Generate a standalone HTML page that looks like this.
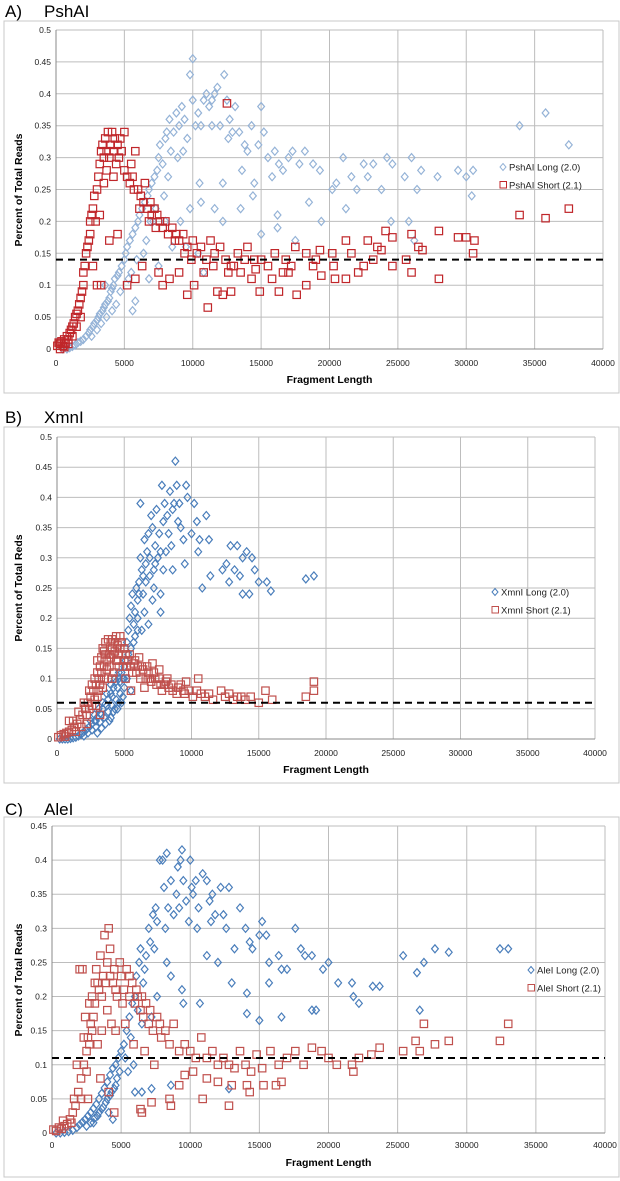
<!DOCTYPE html>
<html><head><meta charset="utf-8"><style>
html,body{margin:0;padding:0;background:#fff;}
svg{display:block;font-family:"Liberation Sans",sans-serif;}
</style></head><body>
<svg id="fig" width="620" height="1181" viewBox="0 0 620 1181" xmlns="http://www.w3.org/2000/svg"></svg>
<script>
// ---- Data (x in kb, y = percent of total reads) ----
const xTicks = [0,5000,10000,15000,20000,25000,30000,35000,40000];
const yTicksAB = [0,0.05,0.1,0.15,0.2,0.25,0.3,0.35,0.4,0.45,0.5];
const yTicksC = [0,0.05,0.1,0.15,0.2,0.25,0.3,0.35,0.4,0.45];
const thresholds = [0.14,0.06,0.11];
const aLong = [[0.5,0],[0.8,0],[1,0.002],[1.2,0.004],[1.4,0.006],[1.6,0.01],[1.8,0.012],[2,0.015],[2.2,0.02],[2.4,0.025],[2.5,0.03],[2.7,0.035],[2.8,0.04],[3,0.045],[3.1,0.05],[3.2,0.055],[3.4,0.06],[3.5,0.065],[3.6,0.07],[3.8,0.075],[3.9,0.08],[4,0.09],[4.1,0.095],[4.2,0.1],[4.3,0.11],[4.5,0.115],[4.6,0.12],[4.8,0.13],[5,0.14],[5.1,0.15],[5.2,0.16],[5.4,0.17],[5.5,0.12],[5.6,0.18],[5.8,0.19],[6,0.2],[6.1,0.21],[6.3,0.22],[6.4,0.15],[6.5,0.23],[6.7,0.24],[6.8,0.25],[7,0.26],[7.1,0.2],[7.2,0.27],[7.4,0.28],[7.5,0.3],[7.6,0.32],[7.8,0.29],[8,0.33],[8.1,0.34],[8.3,0.36],[8.4,0.31],[8.6,0.34],[8.8,0.37],[9,0.35],[9.2,0.38],[9.4,0.36],[9.6,0.33],[9.8,0.43],[10,0.455],[10,0.39],[10.2,0.35],[10.4,0.37],[10.5,0.26],[10.6,0.23],[10.8,0.39],[11,0.4],[11.2,0.38],[11.4,0.39],[11.6,0.4],[11.8,0.41],[12,0.35],[12.2,0.26],[12.3,0.43],[12.5,0.39],[12.7,0.36],[12.9,0.34],[13.1,0.38],[13.4,0.34],[13.6,0.28],[13.8,0.32],[14,0.31],[14.3,0.35],[14.5,0.26],[14.8,0.32],[15,0.38],[15.2,0.34],[15.5,0.3],[15.8,0.27],[16,0.31],[16.3,0.29],[16.6,0.28],[17,0.3],[17.3,0.31],[17.8,0.29],[18.2,0.31],[18.5,0.23],[18.8,0.29],[19.3,0.28],[20.2,0.25],[20.5,0.26],[21,0.3],[21.2,0.22],[21.6,0.27],[22,0.25],[22.5,0.29],[22.8,0.27],[23.2,0.29],[23.8,0.25],[24.2,0.3],[24.6,0.29],[25.5,0.27],[26,0.3],[26.4,0.25],[26.7,0.28],[27.9,0.27],[29.4,0.28],[30,0.27],[30.5,0.28],[30.4,0.24],[16.2,0.21],[16.2,0.19],[19.4,0.2],[17.5,0.17],[15,0.18],[12.2,0.2],[11.6,0.22],[13.5,0.22],[14.4,0.24],[33.9,0.35],[35.8,0.37],[37.5,0.32],[3.6,0.1],[4.4,0.07],[5.6,0.06],[5.8,0.075],[6.8,0.11],[7.5,0.13],[8.5,0.16],[9.1,0.2],[9.8,0.22],[10.4,0.15],[10.8,0.12],[8,0.2],[9.5,0.16],[24.5,0.2],[25.8,0.2],[26.2,0.17],[2.6,0.02],[3,0.03],[3.3,0.04],[3.7,0.05],[4.1,0.06],[4.7,0.09],[5.3,0.11],[5.9,0.14],[6.6,0.17],[7.3,0.22],[8.2,0.27],[9.3,0.31],[10.6,0.35],[11.4,0.35],[12.6,0.33],[8.9,0.3],[7.9,0.24],[6.9,0.2]];
const aShort = [[0.1,0.005],[0.2,0.01],[0.3,0],[0.4,0.012],[0.5,0.005],[0.6,0.015],[0.7,0.01],[0.8,0.02],[0.9,0.015],[1,0.025],[1.1,0.03],[1.2,0.035],[1.3,0.04],[1.4,0.05],[1.5,0.055],[1.6,0.06],[1.7,0.07],[1.8,0.08],[1.9,0.09],[2,0.1],[2,0.12],[2.1,0.13],[2.2,0.15],[2.3,0.16],[2.4,0.17],[2.5,0.18],[2.5,0.2],[2.6,0.21],[2.7,0.22],[2.8,0.24],[2.9,0.2],[3,0.25],[3,0.1],[3.1,0.27],[3.2,0.29],[3.3,0.31],[3.4,0.32],[3.5,0.3],[3.6,0.33],[3.7,0.31],[3.8,0.34],[3.9,0.3],[4,0.32],[4.1,0.34],[4.2,0.31],[4.3,0.33],[4.4,0.29],[4.5,0.32],[4.6,0.3],[4.8,0.31],[5,0.34],[5,0.28],[5.2,0.27],[5.4,0.26],[5.5,0.29],[5.7,0.25],[5.8,0.31],[6,0.25],[6.2,0.24],[6.4,0.23],[6.5,0.26],[6.7,0.22],[6.9,0.23],[7,0.21],[7.2,0.22],[7.4,0.21],[7.6,0.2],[7.8,0.19],[8,0.2],[8.2,0.18],[8.5,0.19],[8.8,0.18],[9,0.17],[9.3,0.18],[9.6,0.16],[10,0.17],[10.3,0.15],[10.6,0.16],[11,0.14],[11.3,0.17],[11.6,0.15],[12,0.16],[12.4,0.14],[12.5,0.385],[3.5,0.26],[3.2,0.21],[2.7,0.13],[3.3,0.1],[3.9,0.17],[4.5,0.18],[5.2,0.1],[5.8,0.11],[6.3,0.13],[7.5,0.12],[7.8,0.1],[8.3,0.11],[9,0.12],[9.6,0.085],[10.1,0.1],[11.1,0.065],[11.8,0.09],[12.2,0.085],[12.8,0.09],[13.5,0.12],[14,0.16],[14.3,0.11],[14.9,0.09],[15,0.14],[15.5,0.13],[16,0.15],[16.3,0.09],[16.6,0.12],[17.2,0.13],[17.5,0.16],[17.6,0.085],[18.3,0.1],[18.3,0.15],[18.8,0.13],[19.3,0.155],[19.4,0.115],[20.2,0.15],[20.3,0.13],[20.4,0.11],[21.2,0.17],[21.2,0.11],[21.6,0.15],[22.1,0.12],[22.5,0.13],[22.8,0.17],[23.2,0.14],[23.5,0.16],[23.8,0.155],[24.1,0.185],[24.6,0.13],[24.6,0.175],[25.6,0.14],[26,0.12],[26,0.18],[26.5,0.16],[26.8,0.155],[28,0.185],[28,0.11],[29.4,0.175],[30,0.175],[30.6,0.17],[30.5,0.15],[33.9,0.21],[35.8,0.205],[37.5,0.22],[13,0.13],[13.8,0.14],[14.6,0.125],[16.8,0.14],[19,0.14],[10.8,0.12],[12.6,0.12],[0.3,0.008],[0.6,0.003],[0.9,0.008],[1.2,0.02],[1.5,0.035],[1.8,0.05],[3.7,0.28],[4.2,0.27],[4.7,0.33],[5.6,0.27],[6.1,0.22],[6.8,0.2],[7.3,0.19],[8.7,0.17],[9.4,0.15],[9.9,0.14],[11.5,0.13],[12.8,0.13],[13.3,0.15],[14.5,0.14],[15.8,0.11],[17,0.12]];
const bLong = [[0.2,0],[0.4,0],[0.6,0],[0.8,0],[1,0.001],[1.2,0.002],[1.4,0.003],[1.6,0.005],[1.8,0.008],[2,0.012],[2.2,0.016],[2.4,0.02],[2.6,0.025],[2.8,0.03],[3,0.036],[3.2,0.042],[3.4,0.05],[3.6,0.058],[3.8,0.066],[4,0.075],[4.2,0.085],[4.4,0.095],[4.6,0.1],[4.8,0.11],[5,0.12],[2,0.005],[2.3,0.01],[2.6,0.015],[2.9,0.02],[3.2,0.028],[3.5,0.036],[3.8,0.045],[4.1,0.055],[4.4,0.065],[4.7,0.075],[5,0.085],[2.5,0.03],[2.8,0.04],[3.1,0.05],[3.4,0.06],[3.7,0.075],[4,0.09],[4.3,0.1],[4.6,0.11],[4.9,0.1],[3.9,0.03],[4.3,0.05],[4.6,0.06],[4.9,0.07],[5.1,0.13],[5.2,0.16],[5.3,0.18],[5.4,0.2],[5.5,0.22],[5.6,0.24],[5.7,0.19],[5.8,0.21],[5.9,0.25],[6,0.23],[6,0.2],[6.1,0.26],[6.2,0.3],[6.2,0.39],[6.3,0.28],[6.4,0.27],[6.5,0.33],[6.6,0.29],[6.7,0.31],[6.8,0.34],[6.9,0.3],[7,0.37],[7.1,0.35],[7.2,0.28],[7.3,0.32],[7.4,0.38],[7.5,0.3],[7.6,0.34],[7.7,0.24],[7.8,0.42],[7.9,0.36],[8,0.39],[8.1,0.31],[8.2,0.37],[8.4,0.41],[8.5,0.32],[8.6,0.38],[8.7,0.39],[8.8,0.46],[8.9,0.42],[9,0.36],[9.2,0.35],[9.4,0.33],[9.6,0.42],[9.7,0.4],[10,0.34],[10.2,0.39],[10.4,0.36],[10.5,0.31],[10.6,0.33],[10.8,0.25],[11.1,0.37],[11.3,0.33],[11.4,0.27],[12.3,0.28],[12.6,0.29],[12.8,0.26],[12.9,0.32],[13.2,0.28],[13.4,0.32],[13.6,0.27],[13.8,0.3],[13.8,0.24],[14.1,0.31],[14.3,0.24],[14.5,0.3],[14.7,0.28],[15,0.26],[15.6,0.26],[15.9,0.245],[18.5,0.265],[19.1,0.27],[7.1,0.23],[6.8,0.19],[6.5,0.21],[7.2,0.25],[9.5,0.29],[8.6,0.28],[5.5,0.15],[5.8,0.17],[6.3,0.18],[7.7,0.21],[6.1,0.24],[5.2,0.1],[5.5,0.08],[3,0.01],[3.3,0.018],[3.6,0.025],[4,0.035],[4.2,0.045],[4.5,0.05],[4.8,0.06],[5,0.1],[4.5,0.085],[4.1,0.07],[3.7,0.055],[3.3,0.04],[2.9,0.03],[4.7,0.095],[5.3,0.14],[5.7,0.16],[6,0.18],[6.4,0.24],[6.9,0.27],[7.3,0.29],[7.7,0.31],[8.3,0.34],[9.1,0.39],[6.6,0.26],[7.9,0.28]];
const bShort = [[0.1,0.003],[0.3,0.006],[0.5,0.008],[0.7,0.01],[0.9,0.012],[1.1,0.015],[1.3,0.02],[1.5,0.025],[1.7,0.032],[1.9,0.04],[2.1,0.05],[2.3,0.06],[2.5,0.07],[2.7,0.08],[2.9,0.09],[3.1,0.1],[3.3,0.11],[3.5,0.12],[3.7,0.13],[3.9,0.14],[4.1,0.15],[4.3,0.16],[4.5,0.155],[1.2,0.03],[1.6,0.045],[2,0.06],[2.4,0.08],[2.8,0.1],[3.2,0.12],[3.6,0.14],[4,0.16],[4.4,0.17],[4.8,0.16],[2.2,0.04],[2.6,0.055],[3,0.07],[3.4,0.085],[3.8,0.1],[4.2,0.11],[4.6,0.12],[5,0.13],[3,0.13],[3.4,0.15],[3.8,0.165],[4.2,0.14],[4.6,0.14],[5,0.15],[5.2,0.12],[5.4,0.14],[5.6,0.11],[5.8,0.13],[6,0.12],[6.2,0.1],[6.4,0.115],[6.6,0.1],[6.8,0.11],[7,0.095],[7.2,0.11],[7.4,0.09],[7.6,0.1],[7.8,0.08],[8,0.09],[8.3,0.085],[8.6,0.08],[8.9,0.075],[9.2,0.09],[9.5,0.075],[9.8,0.08],[10.1,0.07],[10.4,0.08],[10.7,0.075],[11,0.07],[11.3,0.075],[11.6,0.065],[12.2,0.08],[12.5,0.07],[12.8,0.075],[13.1,0.065],[13.4,0.07],[13.7,0.07],[14,0.065],[14.4,0.07],[15,0.06],[15.5,0.08],[16,0.065],[18.5,0.07],[19.1,0.08],[19.1,0.095],[5.5,0.08],[6.5,0.085],[7.1,0.125],[7.6,0.115],[8.2,0.1],[9.6,0.095],[10.5,0.1],[3.2,0.04],[0.9,0.03],[4.4,0.13],[5.1,0.1],[2.4,0.05],[2.6,0.09],[2.8,0.065],[3,0.11],[3.2,0.09],[3.3,0.135],[3.5,0.1],[3.6,0.16],[3.7,0.115],[3.9,0.12],[4,0.135],[4.1,0.1],[4.3,0.145],[4.5,0.13],[4.7,0.15],[4.9,0.12],[5.1,0.14],[5.3,0.13],[5.5,0.12],[5.7,0.125],[5.9,0.11],[6.1,0.135],[6.3,0.12],[6.7,0.12],[6.9,0.1],[7.3,0.1],[7.7,0.09],[8.1,0.095],[8.5,0.09],[9,0.085],[9.4,0.08],[3.5,0.145],[4.1,0.165],[4.7,0.17],[3.1,0.08],[2.9,0.055],[2.2,0.025],[1.8,0.02],[1.4,0.012],[0.6,0.004]];
const cLong = [[0.3,0],[0.6,0],[0.9,0.001],[1.2,0.002],[1.5,0.004],[1.8,0.008],[2,0.012],[2.2,0.016],[2.4,0.02],[2.6,0.025],[2.8,0.03],[3,0.036],[3.2,0.042],[3.4,0.05],[3.6,0.058],[3.8,0.066],[4,0.075],[4.2,0.085],[4.4,0.095],[4.6,0.1],[4.8,0.11],[2.5,0.01],[2.8,0.015],[3.1,0.022],[3.4,0.03],[3.7,0.038],[4,0.05],[4.3,0.06],[4.6,0.07],[4.4,0.02],[4.1,0.03],[4.7,0.08],[5,0.12],[5.2,0.13],[5.4,0.15],[5.6,0.17],[5.8,0.19],[6,0.2],[6.1,0.23],[6.3,0.25],[6.4,0.27],[6.6,0.22],[6.8,0.26],[7,0.3],[7.1,0.28],[7.3,0.32],[7.5,0.33],[7.6,0.31],[7.8,0.4],[8,0.4],[8.1,0.36],[8.3,0.41],[8.4,0.33],[8.6,0.37],[8.8,0.32],[9,0.35],[9.1,0.39],[9.3,0.4],[9.4,0.415],[9.5,0.37],[9.7,0.34],[9.9,0.31],[10,0.4],[10.1,0.36],[10.2,0.35],[10.4,0.37],[10.6,0.33],[10.9,0.38],[11.2,0.37],[11.4,0.34],[11.6,0.35],[11.8,0.32],[12.2,0.36],[12.4,0.32],[12.6,0.3],[12.8,0.36],[13.2,0.27],[13.6,0.33],[14,0.3],[14.3,0.28],[14.5,0.27],[15,0.29],[15.2,0.31],[15.5,0.29],[15.7,0.25],[16.4,0.26],[16.6,0.24],[17,0.24],[17.6,0.3],[18,0.27],[18.3,0.26],[18.8,0.26],[19.6,0.24],[20,0.25],[20.7,0.22],[21.7,0.22],[21.8,0.2],[22.2,0.19],[23.2,0.215],[23.7,0.215],[25.4,0.26],[26.4,0.235],[26.6,0.18],[26.9,0.25],[27.7,0.27],[28.7,0.265],[32.4,0.27],[33,0.27],[12,0.25],[11.2,0.26],[10.7,0.19],[9.4,0.21],[9.5,0.19],[8.6,0.23],[8.3,0.25],[7.6,0.2],[7.2,0.17],[14.1,0.205],[14.1,0.175],[15,0.165],[15.7,0.22],[16.6,0.17],[18.8,0.18],[19.1,0.18],[13,0.22],[6.5,0.06],[7.2,0.065],[6,0.06],[12.8,0.065],[8.6,0.07],[6.5,0.16],[5.9,0.1],[5.5,0.09],[3,0.015],[3.3,0.025],[3.6,0.035],[3.9,0.045],[4.2,0.055],[4.5,0.065],[4.9,0.09],[5.3,0.11],[5.7,0.14],[6.2,0.18],[6.7,0.24],[7.4,0.27],[8.2,0.3],[9.2,0.33],[10.5,0.3],[11.5,0.31]];
const cShort = [[0.1,0.005],[0.3,0.003],[0.5,0.008],[0.7,0.006],[0.9,0.01],[1.1,0.013],[1.3,0.02],[1.5,0.03],[1.7,0.04],[1.9,0.06],[2.1,0.08],[2.3,0.1],[2.5,0.12],[2.6,0.14],[2.8,0.16],[2.9,0.2],[3.1,0.22],[3.2,0.24],[3.4,0.21],[3.5,0.26],[3.7,0.23],[3.8,0.29],[4,0.25],[4.1,0.3],[4.2,0.27],[4.4,0.22],[4.5,0.24],[4.7,0.2],[4.9,0.25],[5,0.23],[5.2,0.21],[5.4,0.24],[5.6,0.2],[5.8,0.22],[6,0.19],[6.2,0.2],[6.4,0.18],[6.6,0.17],[6.8,0.19],[7,0.16],[7.3,0.15],[7.6,0.17],[7.9,0.14],[8.2,0.15],[8.5,0.13],[8.8,0.16],[9.2,0.12],[9.6,0.13],[10,0.12],[10.4,0.11],[10.8,0.14],[11.2,0.11],[11.6,0.12],[12,0.1],[12.4,0.11],[12.8,0.1],[13.2,0.095],[13.6,0.12],[14,0.1],[14.4,0.09],[14.8,0.115],[15.2,0.095],[15.8,0.12],[16.4,0.1],[17,0.11],[17.6,0.12],[18.2,0.1],[18.8,0.125],[19.5,0.12],[20,0.11],[20.6,0.1],[21.7,0.1],[21.8,0.09],[22.2,0.11],[23.1,0.115],[23.7,0.125],[25.4,0.12],[26.3,0.135],[26.6,0.12],[26.9,0.16],[27.7,0.13],[28.7,0.135],[32.4,0.135],[33,0.16],[2,0.24],[2.2,0.24],[2.4,0.17],[2.7,0.13],[3,0.17],[3.3,0.13],[3.6,0.15],[4,0.18],[4.3,0.16],[4.6,0.15],[5.3,0.16],[5.9,0.13],[6.5,0.03],[6.4,0.035],[7.2,0.045],[8.5,0.05],[8.6,0.04],[9.2,0.07],[10.9,0.05],[12.8,0.04],[14.3,0.06],[14.1,0.07],[15.3,0.07],[16.2,0.07],[16.6,0.075],[12,0.075],[11.2,0.08],[9.6,0.085],[7.4,0.1],[6.7,0.12],[3.5,0.08],[4.1,0.06],[2.6,0.05],[4.5,0.03],[1.8,0.1],[1.4,0.015],[0.8,0.018],[13,0.07],[10.2,0.09],[2.7,0.19],[2.9,0.15],[3.1,0.19],[3.3,0.22],[3.6,0.2],[3.9,0.22],[4.2,0.23],[4.6,0.21],[5.1,0.19],[5.6,0.23],[6.1,0.21],[6.5,0.2],[7.1,0.18],[7.8,0.16],[2.3,0.14],[2.5,0.09],[2.1,0.05],[1.6,0.05]];

// ---- Layout ----
const NS = "http://www.w3.org/2000/svg";
const svg = document.getElementById('fig');
function mk(tag, attrs, parent) {
  const e = document.createElementNS(NS, tag);
  for (const k in attrs) e.setAttribute(k, attrs[k]);
  (parent || svg).appendChild(e);
  return e;
}
const panels = [
  {letter:'A)', name:'PshAI', tY:17, fx0:4, fy0:21, fx1:619, fy1:393, x0:56, x1:603, yTop:30, yBot:349, yMax:0.5, yTicks:yTicksAB, xlabY:366, xtitY:383, ytitY:190,
   legX:503, legY:167, longC:'#95b3d7', shortC:'#c0262a', long:aLong, short:aShort, thr:thresholds[0], key:'pshai'},
  {letter:'B)', name:'XmnI', tY:423, fx0:4, fy0:427, fx1:619, fy1:783, x0:57, x1:595, yTop:437, yBot:739, yMax:0.5, yTicks:yTicksAB, xlabY:756, xtitY:773, ytitY:588,
   legX:495, legY:592, longC:'#4a7ebb', shortC:'#c0504d', long:bLong, short:bShort, thr:thresholds[1], key:'xmni'},
  {letter:'C)', name:'AleI', tY:815, fx0:4, fy0:817, fx1:619, fy1:1177, x0:52, x1:605, yTop:826, yBot:1133, yMax:0.45, yTicks:yTicksC, xlabY:1148, xtitY:1166, ytitY:980,
   legX:531, legY:970, longC:'#4a7ebb', shortC:'#c0504d', long:cLong, short:cShort, thr:thresholds[2], key:'alei'}
];
const ytitles = ['Percent of Total Reads','Percent of Total Reds','Percent of Total Reads'];

panels.forEach((p, pi) => {
  const g = mk('g', {});
  
  
  const sx = v => p.x0 + (v / 40000) * (p.x1 - p.x0);
  const sy = v => p.yBot - (v / p.yMax) * (p.yBot - p.yTop);

  const t1 = mk('text', {x:5, y:p.tY, 'font-size':17, fill:'#000'}, g); t1.textContent = p.letter;
  
  
  const t2 = mk('text', {x:44, y:p.tY, 'font-size':17, fill:'#000'}, g); t2.textContent = p.name;
  
  
  let wd = 'M44 ' + (p.tY + 4);
  for (let i = 0; i < 12; i++) wd += ' l1.5 ' + (i % 2 ? -1.5 : 1.5);
  const wv = mk('path', {d:wd, stroke:'#e02020', fill:'none', 'stroke-width':0.8}, g);
  
  

  const fr = mk('rect', {x:p.fx0, y:p.fy0, width:p.fx1 - p.fx0, height:p.fy1 - p.fy0, fill:'#fff', stroke:'#c8c8c8', 'stroke-width':1}, g);
  
  

  p.yTicks.forEach(v => {
    const ln = mk('line', {x1:p.x0, x2:p.x1, y1:sy(v), y2:sy(v), stroke:'#bdbdbd', 'stroke-width':1}, g);
    
    
    const tx = mk('text', {x:p.x0 - 5, y:sy(v) + 3, 'font-size':8.5, 'text-anchor':'end', fill:'#222'}, g);
    tx.textContent = String(v);
    
    
  });
  xTicks.forEach(v => {
    const ln = mk('line', {x1:sx(v), x2:sx(v), y1:p.yTop, y2:p.yBot, stroke:'#bdbdbd', 'stroke-width':1}, g);
    
    
    const tx = mk('text', {x:sx(v), y:p.xlabY, 'font-size':8.5, 'text-anchor':'middle', fill:'#222'}, g);
    tx.textContent = String(v);
    
    
  });
  const ax = mk('line', {x1:p.x0, x2:p.x0, y1:p.yTop, y2:p.yBot, stroke:'#888', 'stroke-width':1}, g);
  
  
  const axx = mk('line', {x1:p.x0, x2:p.x1, y1:p.yBot, y2:p.yBot, stroke:'#888', 'stroke-width':1}, g);
  
  

  const xt = mk('text', {x:(p.x0 + p.x1) / 2, y:p.xtitY, 'font-size':10.5, 'font-weight':'bold', 'text-anchor':'middle'}, g);
  xt.textContent = 'Fragment Length';
  
  
  const yt = mk('text', {x:0, y:0, 'font-size':10.5, 'font-weight':'bold', 'text-anchor':'middle', transform:'translate(22,' + p.ytitY + ') rotate(-90)'}, g);
  yt.textContent = ytitles[pi];
  
  

  p.long.forEach(d => {
    const cx = sx(d[0] * 1000), cy = sy(d[1]);
    const m = mk('path', {d:'M' + cx + ' ' + (cy - 4) + ' L' + (cx + 3.4) + ' ' + cy + ' L' + cx + ' ' + (cy + 4) + ' L' + (cx - 3.4) + ' ' + cy + 'Z', fill:'none', stroke:p.longC, 'stroke-width':1.2}, g);
    
    
  });
  p.short.forEach(d => {
    const cx = sx(d[0] * 1000), cy = sy(d[1]);
    const m = mk('rect', {x:cx - 3.7, y:cy - 3.7, width:7.4, height:7.4, fill:'none', stroke:p.shortC, 'stroke-width':1.2}, g);
    
    
  });

  const th = mk('line', {x1:p.x0, x2:p.x1, y1:sy(p.thr), y2:sy(p.thr), stroke:'#000', 'stroke-width':2, 'stroke-dasharray':'7,5'}, g);
  
  

  const lg = mk('g', {}, g);
  
  
  const lx = p.legX, ly = p.legY;
  const ld = mk('path', {d:'M' + lx + ' ' + (ly - 3.5) + ' L' + (lx + 3) + ' ' + ly + ' L' + lx + ' ' + (ly + 3.5) + ' L' + (lx - 3) + ' ' + ly + 'Z', fill:'none', stroke:p.longC}, lg);
  
  
  const lt1 = mk('text', {x:lx + 6, y:ly + 3.5, 'font-size':9.5, fill:'#222'}, lg);
  lt1.textContent = p.name + ' Long (2.0)';
  
  
  const ls = mk('rect', {x:lx - 3, y:ly + 18 - 3.5, width:6.5, height:6.5, fill:'none', stroke:p.shortC}, lg);
  
  
  const lt2 = mk('text', {x:lx + 6, y:ly + 18 + 3.5, 'font-size':9.5, fill:'#222'}, lg);
  lt2.textContent = p.name + ' Short (2.1)';
  
  
});
</script>
</body></html>
